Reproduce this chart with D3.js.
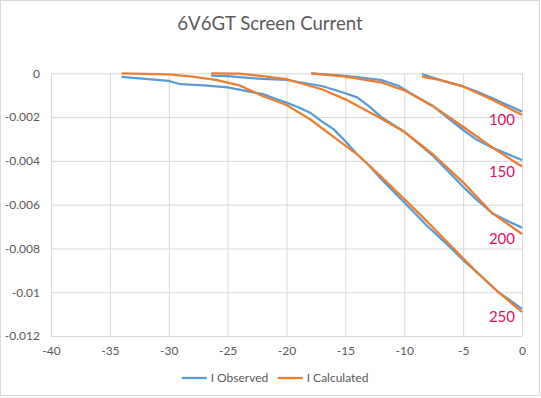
<!DOCTYPE html>
<html>
<head>
<meta charset="utf-8">
<script src="https://cdn.jsdelivr.net/npm/d3@7"></script>
<style>
  body { margin: 0; background: #fff; }
  svg { display: block; font-family: Lato, "Open Sans", sans-serif; }
</style>
</head>
<body>
<svg id="chart" width="541" height="398"></svg>
<script>
// tick values
var xTicks = [-40, -35, -30, -25, -20, -15, -10, -5, 0];
var yTicks = [0, -0.002, -0.004, -0.006, -0.008, -0.01, -0.012];

// screen voltage of each curve pair
var curveLabels = ["100", "150", "200", "250"];
var legendNames = ["I Observed", "I Calculated"];

// observed screen current [grid V, A]
var obs100 = [[-8.5, -0.00003], [-7, -0.0003], [-5, -0.0006], [-4, -0.0008], [-2.7, -0.0011], [0, -0.00175]];
var obs150 = [[-17.9, 0], [-15, -0.00012], [-12, -0.0003], [-10.5, -0.00057], [-9.5, -0.0009], [-7.5, -0.00152],
  [-5, -0.00259], [-3.8, -0.00305], [-2.4, -0.00343], [0, -0.00396]];
var obs200 = [[-26.4, -0.00011], [-25, -0.00013], [-24, -0.00017], [-23, -0.00022], [-22, -0.00026], [-20, -0.0003],
  [-19, -0.0004], [-17, -0.00058], [-15, -0.00091], [-14, -0.0011], [-13, -0.0015], [-12, -0.00198], [-10, -0.00267],
  [-7.5, -0.0038], [-5, -0.00518], [-4, -0.0057], [-2.5, -0.0064], [-1, -0.0068], [0, -0.00705]];
var obs250 = [[-34, -0.00016], [-32, -0.00025], [-30, -0.00035], [-29, -0.0005], [-27, -0.00055], [-25, -0.00064],
  [-24, -0.00075], [-23, -0.00085], [-22, -0.00095], [-21, -0.00115], [-20, -0.00134], [-19, -0.00155], [-18, -0.0018],
  [-17, -0.0022], [-16, -0.00255], [-15, -0.0031], [-14, -0.0037], [-13, -0.0042], [-12, -0.0048], [-10, -0.0059],
  [-8, -0.007], [-6, -0.008], [-5, -0.00853], [-4, -0.009], [-2, -0.01], [0, -0.01076]];

// calculated screen current [grid V, A]
var calc100 = [[-8.5, -0.00015], [-7, -0.0003], [-5, -0.0006], [-2.7, -0.00116], [0, -0.0019]];
var calc150 = [[-17.9, 0], [-15, -0.00015], [-12, -0.00041], [-10, -0.00078], [-7.5, -0.00152], [-5, -0.00244],
  [-2.4, -0.00343], [0, -0.00426]];
var calc200 = [[-26.4, 0], [-24, -0.00002], [-22.8, -0.00008], [-21, -0.0002], [-20, -0.00027], [-17, -0.00073],
  [-15, -0.00119], [-12, -0.00205], [-10, -0.00267], [-7.5, -0.00373], [-5, -0.00498], [-2.5, -0.0064], [0, -0.00734]];
var calc250 = [[-34, 0], [-30, -0.00005], [-28, -0.00015], [-26, -0.0003], [-25, -0.00043], [-24, -0.00055],
  [-23, -0.0008], [-22, -0.00105], [-20, -0.00145], [-18, -0.0021], [-16, -0.0029], [-15, -0.0033], [-14, -0.0037],
  [-13, -0.0042], [-12, -0.0047], [-10, -0.00575], [-8, -0.0068], [-6, -0.0079], [-5, -0.00845], [-4, -0.009],
  [-2, -0.01], [0, -0.0109]];

var observed = [obs100, obs150, obs200, obs250];
var calculated = [calc100, calc150, calc200, calc250];
var colors = ["#5b9bd5", "#ed7d31"];

var svg = d3.select("#chart"),
	MARGINS = { top: 73.3, right: 19, bottom: 62, left: 51 },
	WIDTH = 541,
	HEIGHT = 398,
	xScale = d3.scaleLinear()
		.range([MARGINS.left, WIDTH - MARGINS.right])
		.domain([-40, 0]),
	yScale = d3.scaleLinear()
		.range([HEIGHT - MARGINS.bottom, MARGINS.top])
		.domain([-0.012, 0]);

// chart frame
svg.append("rect")
	.attr("x", 0.5).attr("y", 0.5)
	.attr("width", 539).attr("height", 395)
	.attr("fill", "#fff")
	.attr("stroke", "#d9d9d9");

svg.append("text")
	.attr("x", 270).attr("y", 30)
	.attr("text-anchor", "middle")
	.attr("font-size", "18.6px")
	.attr("fill", "#595959")
	.text("6V6GT Screen Current");

// gridlines (drawn as full-length ticks)
var plotH = yScale(-0.012) - yScale(0),
	plotW = xScale(0) - xScale(-40);

var xAxis = d3.axisBottom(xScale)
	.tickValues(xTicks)
	.tickSize(-plotH)
	.tickPadding(9)
	.tickFormat(function(d) { return String(d); });

var yAxis = d3.axisLeft(yScale)
	.tickValues(yTicks)
	.tickSize(-plotW)
	.tickPadding(11)
	.tickFormat(function(d) { return String(+d.toFixed(3)); });

var gx = svg.append("g")
	.attr("transform", "translate(0," + yScale(-0.012) + ")")
	.call(xAxis);
var gy = svg.append("g")
	.attr("transform", "translate(" + xScale(-40) + ",0)")
	.call(yAxis);

[gx, gy].forEach(function(g) {
	g.select(".domain").remove();
	g.selectAll(".tick line").attr("stroke", "#d9d9d9");
	g.selectAll(".tick text")
		.attr("fill", "#595959")
		.attr("font-size", "12px")
		.attr("font-family", "Lato, 'Open Sans', sans-serif");
});
// labels under the bottom edge, not under the top of the gridline
gx.selectAll(".tick text").attr("y", 10);

var lineGen = d3.line()
	.x(function(d) { return xScale(d[0]); })
	.y(function(d) { return yScale(d[1]); });

[observed, calculated].forEach(function(group, gi) {
	group.forEach(function(curve) {
		svg.append("path")
			.attr("d", lineGen(curve))
			.attr("stroke", colors[gi])
			.attr("stroke-width", 2.25)
			.attr("stroke-linejoin", "round")
			.attr("fill", "none");
	});
});

// curve labels, just under the end of each calculated curve
curveLabels.forEach(function(lbl, i) {
	var end = calculated[i][calculated[i].length - 1];
	svg.append("text")
		.attr("x", xScale(-1.7))
		.attr("y", yScale(end[1]) + 5)
		.attr("dy", "0.35em")
		.attr("text-anchor", "middle")
		.attr("font-size", "15px")
		.attr("fill", "#e0115f")
		.text(lbl);
});

// legend
var legX = [181.7, 277.7];
legendNames.forEach(function(name, i) {
	svg.append("line")
		.attr("x1", legX[i]).attr("x2", legX[i] + 25)
		.attr("y1", 378).attr("y2", 378)
		.attr("stroke", colors[i])
		.attr("stroke-width", 2.25);
	svg.append("text")
		.attr("x", legX[i] + 29).attr("y", 378)
		.attr("dy", "0.35em")
		.attr("font-size", "12px")
		.attr("fill", "#595959")
		.text(name);
});
</script>
</body>
</html>
